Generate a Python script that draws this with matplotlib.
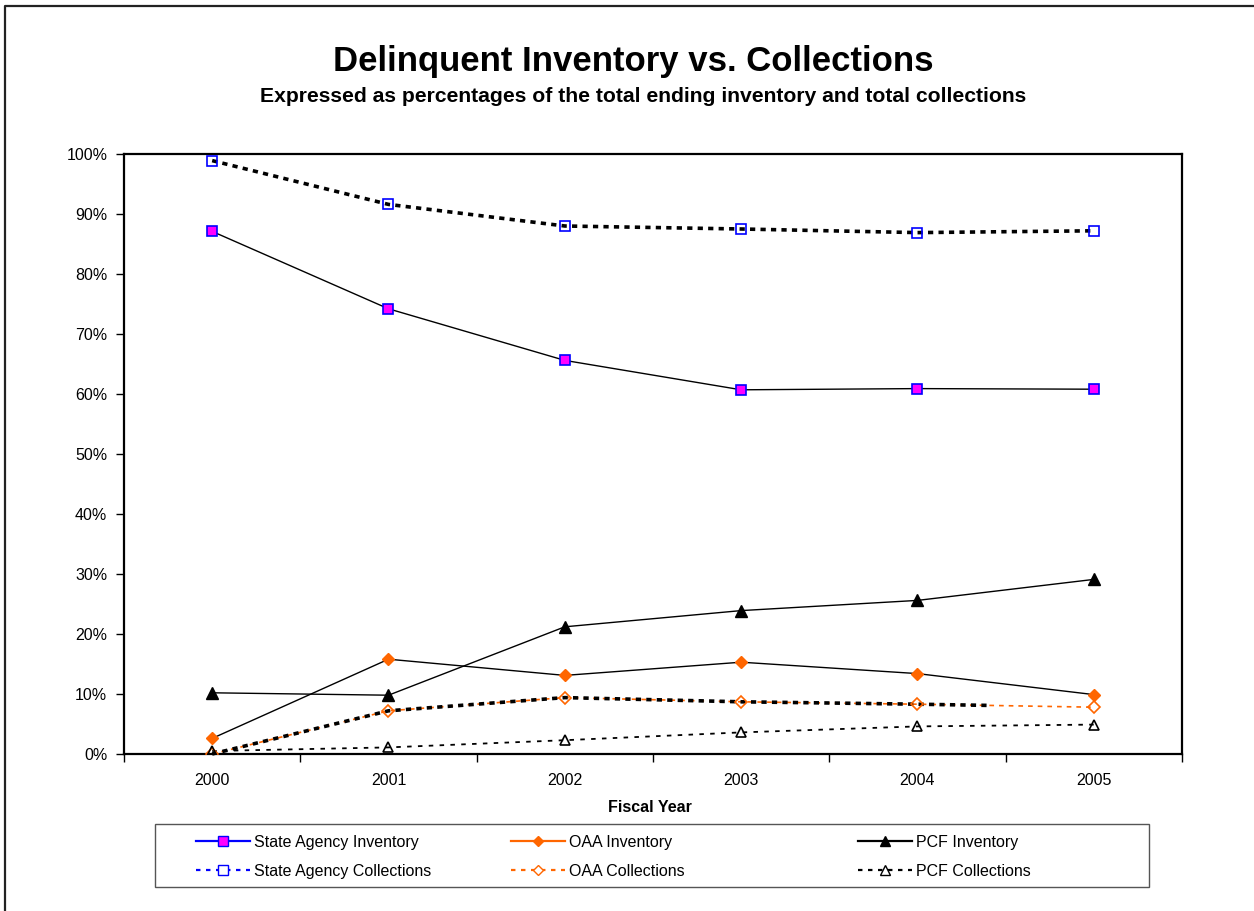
import numpy as np
import matplotlib
matplotlib.use("Agg")
import matplotlib.pyplot as plt
from matplotlib.lines import Line2D
from matplotlib.patches import Rectangle

plt.rcParams["font.family"] = ["Liberation Sans", "DejaVu Sans"]

years = ["2000", "2001", "2002", "2003", "2004", "2005"]
state_agency_inventory = [87.1, 74.2, 65.6, 60.7, 60.9, 60.8]
state_agency_collections = [98.9, 91.6, 88.0, 87.5, 86.9, 87.2]
oaa_inventory = [2.6, 15.8, 13.1, 15.3, 13.4, 9.9]
oaa_collections = [0.0, 7.2, 9.4, 8.7, 8.3, 7.8]
pcf_inventory = [10.2, 9.8, 21.2, 23.9, 25.6, 29.1]
pcf_collections = [0.5, 1.1, 2.3, 3.6, 4.6, 4.9]
y_ticks = list(range(0, 101, 10))

W, H = 1254, 911
fig = plt.figure(figsize=(W / 100, H / 100), dpi=100)
fig.patch.set_facecolor("white")

# outer chart-area border (top and left edges)
fig.add_artist(Line2D([5 / W, 5 / W, 1.0], [0.0, 1 - 6 / H, 1 - 6 / H],
                      transform=fig.transFigure, color="#222222", lw=1.6))

ax = fig.add_axes([124 / W, 1 - 754 / H, (1182 - 124) / W, 600 / H])
x = np.arange(len(years))

BLUE = "#0000FF"
ORANGE = "#FF6600"
MAGENTA = "#FF00FF"
THICK = 2.6
dotted_thick = (0, (1.45, 1.45))

# series lines
ax.plot(x, state_agency_inventory, color="black", lw=1.0, zorder=2)
ax.plot(x, state_agency_collections, color="black", lw=THICK,
        linestyle=dotted_thick, dash_capstyle="butt", zorder=2)
ax.plot(x, oaa_inventory, color="black", lw=1.0, zorder=2)
ax.plot(x, oaa_collections, color=ORANGE, lw=1.2,
        linestyle=(0, (2.8, 3.0)), zorder=2)
oaa_overlay, = ax.plot(x, oaa_collections, color="black", lw=THICK,
                       linestyle=dotted_thick, dash_capstyle="butt", zorder=2.5)
oaa_overlay.set_clip_path(Rectangle((-0.5, -5), 4.9, 120, transform=ax.transData))
ax.plot(x, pcf_inventory, color="black", lw=1.0, zorder=2)
ax.plot(x, pcf_collections, color="black", lw=1.3,
        linestyle=(0, (2.5, 3.5)), zorder=2)

# markers on top
ax.plot(x, state_agency_inventory, ls="none", marker="s", ms=6.5,
        mfc=MAGENTA, mec=BLUE, mew=1.2, zorder=4)
ax.plot(x, state_agency_collections, ls="none", marker="s", ms=6.5,
        mfc="none", mec=BLUE, mew=1.2, zorder=4)
ax.plot(x, oaa_inventory, ls="none", marker="D", ms=6.5,
        mfc=ORANGE, mec=ORANGE, mew=1.0, zorder=4)
ax.plot(x, oaa_collections, ls="none", marker="D", ms=6.0,
        mfc="none", mec=ORANGE, mew=1.2, zorder=4)
ax.plot(x, pcf_inventory, ls="none", marker="^", ms=8,
        mfc="black", mec="black", mew=1.0, zorder=4)
ax.plot(x, pcf_collections, ls="none", marker="^", ms=7.5,
        mfc="none", mec="black", mew=1.2, zorder=4)

ax.set_xlim(-0.5, len(years) - 0.5)
ax.set_ylim(0, 100)
ax.set_yticks(y_ticks)
ax.set_yticklabels([f"{v}%" for v in y_ticks])
ax.set_xticks(x)
ax.set_xticklabels(years)
ax.set_xticks(np.arange(-0.5, len(years), 1.0), minor=True)
ax.tick_params(axis="y", length=6, width=1.0, direction="out", pad=6,
               labelsize=11.5, colors="black")
ax.tick_params(axis="x", which="major", length=0, pad=14, labelsize=11.5)
ax.tick_params(axis="x", which="minor", length=6, width=1.0, direction="out")
for s in ax.spines.values():
    s.set_linewidth(1.6)
    s.set_color("black")

# titles
fig.text(633 / W, 1 - 61 / H, "Delinquent Inventory vs. Collections",
         ha="center", va="center", fontsize=25, fontweight="bold")
fig.text(643 / W, 1 - 96 / H,
         "Expressed as percentages of the total ending inventory and total collections",
         ha="center", va="center", fontsize=15.2, fontweight="bold")
fig.text(650 / W, 1 - 807 / H, "Fiscal Year", ha="center", va="center",
         fontsize=11.5, fontweight="bold")

# legend frame
fig.add_artist(Rectangle((155 / W, 1 - 887 / H), (1149 - 155) / W, 63 / H,
                         transform=fig.transFigure, fill=False,
                         edgecolor="#555555", lw=1.0))

legend_columns = [
    (196, [Line2D([], [], color=BLUE, lw=1.6, marker="s", ms=6.5, mfc=MAGENTA, mec=BLUE),
           Line2D([], [], color=BLUE, lw=1.6, ls=(0, (2, 2.5)), marker="s", ms=6.5,
                  mfc="white", mec=BLUE)],
     ["State Agency Inventory", "State Agency Collections"]),
    (511, [Line2D([], [], color=ORANGE, lw=1.6, marker="D", ms=5.5, mfc=ORANGE, mec=ORANGE),
           Line2D([], [], color=ORANGE, lw=1.6, ls=(0, (2, 2.5)), marker="D", ms=5.5,
                  mfc="white", mec=ORANGE)],
     ["OAA Inventory", "OAA Collections"]),
    (858, [Line2D([], [], color="black", lw=1.6, marker="^", ms=6.5, mfc="black", mec="black"),
           Line2D([], [], color="black", lw=1.6, ls=(0, (2, 2.5)), marker="^", ms=6.5,
                  mfc="white", mec="black")],
     ["PCF Inventory", "PCF Collections"]),
]
for left_px, handles, labels in legend_columns:
    leg = fig.legend(handles, labels, loc="upper left",
                     bbox_to_anchor=(left_px / W, 1 - 835 / H),
                     frameon=False, fontsize=11.5, handlelength=3.4,
                     handletextpad=0.25, labelspacing=0.85, borderpad=0,
                     borderaxespad=0)

fig.savefig("out.png", dpi=100, facecolor="white")
